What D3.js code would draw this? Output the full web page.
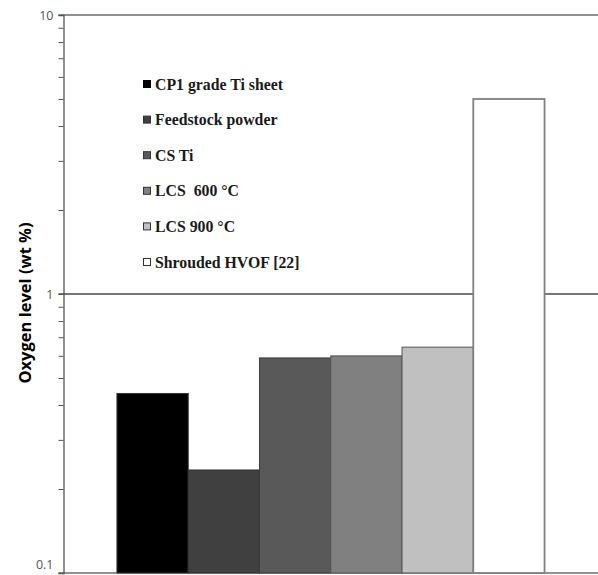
<!DOCTYPE html>
<html>
<head>
<meta charset="utf-8">
<script src="https://cdn.jsdelivr.net/npm/d3@7"></script>
<style>
  html, body { margin: 0; padding: 0; background: #fff; }
  svg { display: block; }
</style>
</head>
<body>
<svg id="chart" width="598" height="575"></svg>
<script>
// Oxygen content of Ti samples (wt %), log scale
const categories = [
  "CP1 grade Ti sheet",
  "Feedstock powder",
  "CS Ti",
  "LCS  600 \u00B0C",
  "LCS 900 \u00B0C",
  "Shrouded HVOF [22]"
];
const oxygenValues = [0.44, 0.234, 0.59, 0.60, 0.645, 5.0];
const fills = ["#000000", "#404040", "#595959", "#808080", "#c0c0c0", "#ffffff"];
const strokes = ["#333333", "#333333", "#3a3a3a", "#555555", "#555555", "#808080"];
const yTickLabels = ["0.1", "1", "10"];
const yTickValues = [0.1, 1, 10];
const yTitle = "Oxygen level (wt %)";

const svg = d3.select("#chart");
const margin = { left: 63.5, right: 0, top: 15, bottom: 2 };
const width = 598, height = 575;

const x = d3.scaleBand()
  .domain(categories)
  .range([margin.left, width])
  .paddingInner(0)
  .paddingOuter(0.75);

const y = d3.scaleLog()
  .domain([0.1, 10])
  .range([573, margin.top]);

// major gridlines at each decade
svg.append("g")
  .selectAll("line")
  .data(yTickValues)
  .join("line")
  .attr("x1", margin.left - 5)
  .attr("x2", width)
  .attr("y1", d => y(d))
  .attr("y2", d => y(d))
  .attr("stroke", d => d === 1 ? "#4a4a4a" : "#6e6e6e")
  .attr("stroke-width", 1.3);

// bars
svg.append("g")
  .selectAll("rect")
  .data(categories)
  .join("rect")
  .attr("x", d => x(d))
  .attr("width", x.bandwidth())
  .attr("y", (d, i) => y(oxygenValues[i]))
  .attr("height", (d, i) => y(0.1) - y(oxygenValues[i]))
  .attr("fill", (d, i) => fills[i])
  .attr("stroke", (d, i) => strokes[i])
  .attr("stroke-width", (d, i) => i === 5 ? 1.8 : 1);

// y axis with minor ticks
const minorTicks = [];
[0.1, 1].forEach(base => {
  for (let k = 2; k <= 9; k++) minorTicks.push(base * k);
});
const yAxis = d3.axisLeft(y)
  .tickValues(minorTicks.concat(yTickValues))
  .tickSize(5)
  .tickFormat(d => {
    const idx = yTickValues.findIndex(v => Math.abs(v - d) < 1e-9);
    return idx >= 0 ? yTickLabels[idx] : "";
  });

const gAxis = svg.append("g")
  .attr("transform", `translate(${margin.left},0)`)
  .call(yAxis);
gAxis.select(".domain").attr("stroke", "#555").attr("stroke-width", 1.3);
gAxis.selectAll(".tick line").attr("stroke", "#555").attr("stroke-width", 1);
gAxis.selectAll(".tick text")
  .attr("x", -10)
  .attr("dy", d => d === 0.1 ? "-0.4em" : "0.32em")
  .attr("fill", "#555555")
  .style("font-family", "'Open Sans', 'DejaVu Sans', sans-serif")
  .style("font-size", "12.5px");

// y axis title
svg.append("text")
  .attr("transform", `translate(31,303) rotate(-90)`)
  .attr("text-anchor", "middle")
  .style("font-family", "'Open Sans', 'Liberation Sans', sans-serif")
  .style("font-weight", "bold")
  .style("font-size", "16.5px")
  .attr("fill", "#000")
  .text(yTitle);

// legend
const legend = svg.append("g").attr("transform", "translate(143,84)");
const rows = legend.selectAll("g")
  .data(categories)
  .join("g")
  .attr("transform", (d, i) => `translate(0,${i * 35.6})`);
rows.append("rect")
  .attr("x", 0.5)
  .attr("y", -3.5)
  .attr("width", 7)
  .attr("height", 7)
  .attr("fill", (d, i) => fills[i])
  .attr("stroke", (d, i) => i === 0 ? "#000" : "#333")
  .attr("stroke-width", 1);
rows.append("text")
  .attr("x", 12)
  .attr("y", 5.5)
  .style("font-family", "'Liberation Serif', 'Times New Roman', serif")
  .style("font-weight", "bold")
  .style("font-size", "15.8px")
  .style("white-space", "pre")
  .attr("fill", "#1a1a1a")
  .text(d => d);
</script>
</body>
</html>
